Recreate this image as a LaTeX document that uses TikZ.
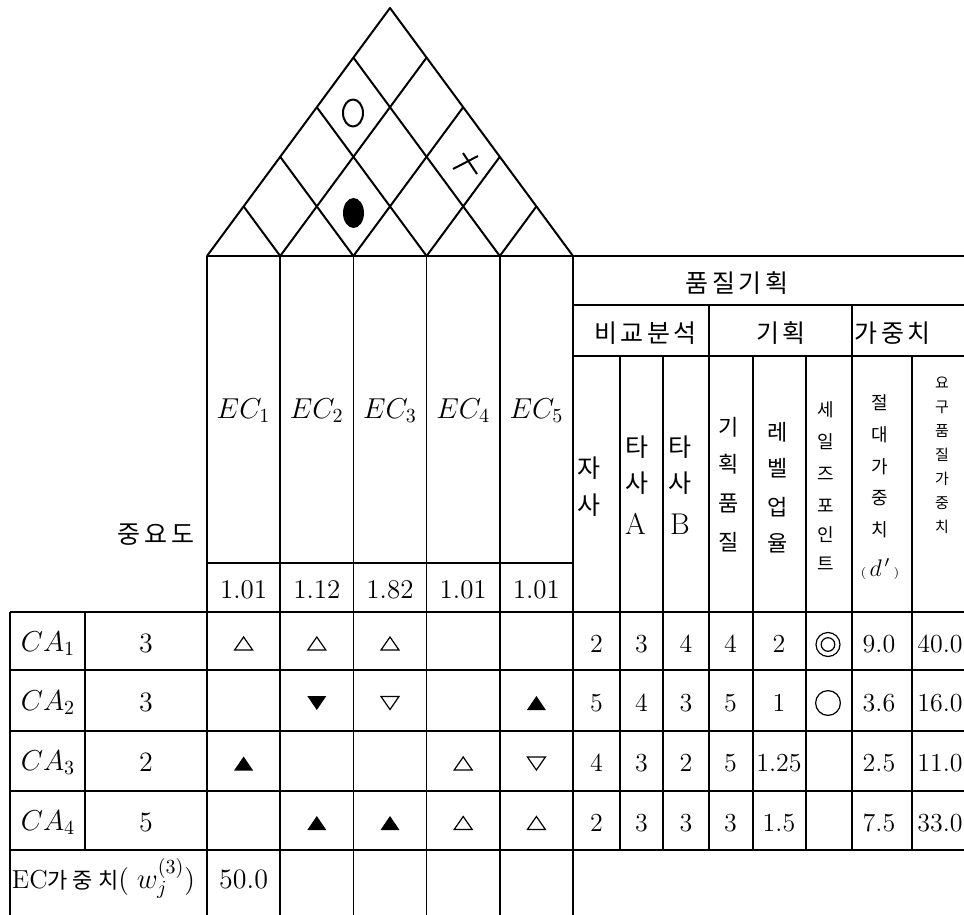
\documentclass[tikz,border=0pt]{standalone}
\usepackage{fontspec}
\newfontfamily\kr{Noto Sans CJK KR}
\usetikzlibrary{calc}
\newcommand\kg{\hspace{1.8pt}}
\begin{document}
\begin{tikzpicture}[x=0.5pt,y=-0.5pt,
  tl/.style={line width=0.8pt},
  roof/.style={line width=1pt, line join=round},
  num/.style={font=\fontsize{14}{16}\selectfont, anchor=base, inner sep=0pt},
  qnum/.style={font=\fontsize{13}{15}\selectfont, anchor=base, inner sep=0pt},
  hdr/.style={font=\kr\fontsize{12.5}{14}\selectfont, inner sep=0pt},
  eclab/.style={font=\fontsize{14}{16}\selectfont, anchor=base, inner sep=0pt},
  calab/.style={font=\fontsize{14.5}{16}\selectfont, anchor=base, inner sep=0pt},
  kch/.style={inner sep=0pt, font=\kr\fontsize{#1}{#1}\selectfont},
  wup/.pic={\draw[line width=0.6pt] (-9,6.5) -- (9,6.5) -- (0,-6.5) -- cycle;},
  wdn/.pic={\draw[line width=0.6pt] (-9,-6.5) -- (9,-6.5) -- (0,6.5) -- cycle;},
  bup/.pic={\fill (-9.5,7) -- (9.5,7) -- (0,-7) -- cycle;},
  bdn/.pic={\fill (-9.5,-7) -- (9.5,-7) -- (0,7) -- cycle;}
]
\useasboundingbox (0,0) rectangle (964,915);

% ---------- roof ----------
\coordinate (A) at (207,256);
\coordinate (B) at (573,256);
\coordinate (T) at (390,8);
\draw[roof] (A) -- (T) -- (B);
\foreach \k in {1,...,4} {
  \pgfmathsetmacro\kk{1-\k/5}
  \coordinate (P\k) at ($(A)!\k/5!(B)$);
  \draw[roof] (P\k) -- ($(B)!\kk!(T)$);
  \draw[roof] (P\k) -- ($(A)!\k/5!(T)$);
}
\coordinate (r14) at (353,113);
\coordinate (r23) at (353.5,213);
\coordinate (r35) at (466,164);
\draw[roof] (r14) ellipse [x radius=5pt, y radius=6.75pt];
\fill (r23) ellipse [x radius=5.25pt, y radius=7.5pt];
\draw[roof] ($(r35)+(-3,-11)$) -- ($(r35)+(11,10)$);
\draw[roof] ($(r35)+(-13,5)$) -- ($(r35)+(12,-8)$);

% ---------- table lines ----------
\draw[tl] (207,256) -- (964,256);
\draw[tl] (573,305) -- (964,305);
\draw[tl] (573,356) -- (964,356);
\draw[tl] (207,563) -- (573,563);
\foreach \y in {612,670,731,791,850} \draw[tl] (10,\y) -- (964,\y);
\draw[tl] (10,612) -- (10,915);
\draw[tl] (85,612) -- (85,850);
\foreach \x in {207,280.2,353.4,426.6,499.8,573} \draw[tl] (\x,256) -- (\x,915);
\foreach \x in {709,852} \draw[tl] (\x,305) -- (\x,850);
\foreach \x in {620,663,753,806,912} \draw[tl] (\x,356) -- (\x,850);

% ---------- headers ----------
\node[hdr] (qp) at (737,283.5) {품\kg 질\kg 기\kg 획};
\node[hdr] (cmp) at (645.5,333) {비\kg 교\kg 분\kg 석};
\node[hdr] (plan) at (781,333) {기\kg 획};
\node[hdr] (wgt) at (892.5,333) {가\kg 중\kg 치};
\node[hdr] (imp) at (156,535) {중\kg 요\kg 도};

\node[eclab] (ec1) at (243.6,418) {$EC_1$};
\node[eclab] (ec2) at (316.8,418) {$EC_2$};
\node[eclab] (ec3) at (390,418) {$EC_3$};
\node[eclab] (ec4) at (463.2,418) {$EC_4$};
\node[eclab] (ec5) at (536.4,418) {$EC_5$};

% vertical column headings, one character per node
\foreach \c/\y [count=\i] in {자/468, 사/505}
  \node[kch=12.5] (own\i) at (589,\y) {\c};
\foreach \c/\y [count=\i] in {타/447, 사/483}
  \node[kch=12.5] (cA\i) at (636.5,\y) {\c};
\node[inner sep=0pt, font=\fontsize{15}{16}\selectfont] (cA3) at (635.5,524) {A};
\foreach \c/\y [count=\i] in {타/447, 사/483}
  \node[kch=12.5] (cB\i) at (680,\y) {\c};
\node[inner sep=0pt, font=\fontsize{15}{16}\selectfont] (cB3) at (680,524) {B};
\foreach \c/\y [count=\i] in {기/427, 획/464, 품/503, 질/542}
  \node[kch=11] (pq\i) at (729,\y) {\c};
\foreach \c/\y [count=\i] in {레/432, 벨/468, 업/507, 율/543}
  \node[kch=11] (lv\i) at (777.5,\y) {\c};
\foreach \c/\y [count=\i] in {세/410, 일/442, 즈/474, 포/506, 인/535, 트/564}
  \node[kch=9] (sp\i) at (826,\y) {\c};
\foreach \c/\y [count=\i] in {절/403, 대/435, 가/467, 중/498, 치/530}
  \node[kch=9] (aw\i) at (880,\y) {\c};
\node[inner sep=0pt] (aw6) at (880,569) {{\fontsize{6}{7}\selectfont(}\,{\fontsize{12}{14}\selectfont$d^{\,\prime}$}\,{\fontsize{6}{7}\selectfont)}};
\foreach \c/\y [count=\i] in {요/383, 구/407, 품/431, 질/455, 가/479, 중/503, 치/527}
  \node[kch=7.5] (rq\i) at (942,\y) {\c};

% ---------- EC weights ----------
\node[num, font=\fontsize{13.5}{15}\selectfont] (w1) at (243.6,598) {1.01};
\node[num, font=\fontsize{13.5}{15}\selectfont] (w2) at (316.8,598) {1.12};
\node[num, font=\fontsize{13.5}{15}\selectfont] (w3) at (390,598) {1.82};
\node[num, font=\fontsize{13.5}{15}\selectfont] (w4) at (463.2,598) {1.01};
\node[num, font=\fontsize{13.5}{15}\selectfont] (w5) at (536.4,598) {1.01};

% ---------- rows: CA labels and importance ----------
\node[calab] (ca1) at (48,651) {$CA_1$};
\node[calab] (ca2) at (48,710) {$CA_2$};
\node[calab] (ca3) at (48,770) {$CA_3$};
\node[calab] (ca4) at (48,830) {$CA_4$};
\node[num] (i1) at (146,652) {3};
\node[num] (i2) at (146,711) {3};
\node[num] (i3) at (146,771) {2};
\node[num] (i4) at (146,831) {5};

% ---------- relationship symbols ----------
\pic (s11) at (243.6,643.5) {wup};
\pic (s12) at (316.8,643.5) {wup};
\pic (s13) at (390,643.5) {wup};
\pic (s22) at (316.8,703) {bdn};
\pic (s23) at (390,703) {wdn};
\pic (s25) at (536.4,703) {bup};
\pic (s31) at (243.6,763.5) {bup};
\pic (s34) at (463.2,763.5) {wup};
\pic (s35) at (536.4,763.5) {wdn};
\pic (s42) at (316.8,823) {bup};
\pic (s43) at (390,823) {bup};
\pic (s44) at (463.2,823) {wup};
\pic (s45) at (536.4,823) {wup};

% ---------- quality planning values ----------
\foreach \r/\y/\a/\b/\c/\d/\e/\g/\h in {1/652/2/3/4/4/2/9.0/40.0, 2/711/5/4/3/5/1/3.6/16.0, 3/771/4/3/2/5/1.25/2.5/11.0, 4/831/2/3/3/3/1.5/7.5/33.0} {
  \node[qnum] (own\r) at (596.5,\y) {\a};
  \node[qnum] (ca\r A) at (641.5,\y) {\b};
  \node[qnum] (ca\r B) at (686,\y) {\c};
  \node[qnum] (pq\r) at (730.5,\y) {\d};
  \node[qnum] (lv\r) at (779,\y) {\e};
  \node[qnum] (aw\r) at (879,\y) {\g};
  \node[qnum] (rw\r) at (940,\y) {\h};
}
\coordinate (sp1) at (828,644.5);
\coordinate (sp2) at (828,703);
\draw[line width=0.6pt] (sp1) circle [radius=6pt];
\draw[line width=0.6pt] (sp1) circle [radius=3.4pt];
\draw[line width=0.6pt] (sp2) circle [radius=6.2pt];

% ---------- bottom row ----------
\node[anchor=base, inner sep=0pt] (ecw) at (103.5,888) {{\fontsize{13}{14}\selectfont EC}{\kr\fontsize{11}{12}\selectfont 가\hspace{2.5pt}중\hspace{2.5pt}치}{\fontsize{14}{15}\selectfont(\;$w_j^{(3)}$)}};
\node[num] (ecw1) at (243.6,888) {50.0};
\end{tikzpicture}
\end{document}
